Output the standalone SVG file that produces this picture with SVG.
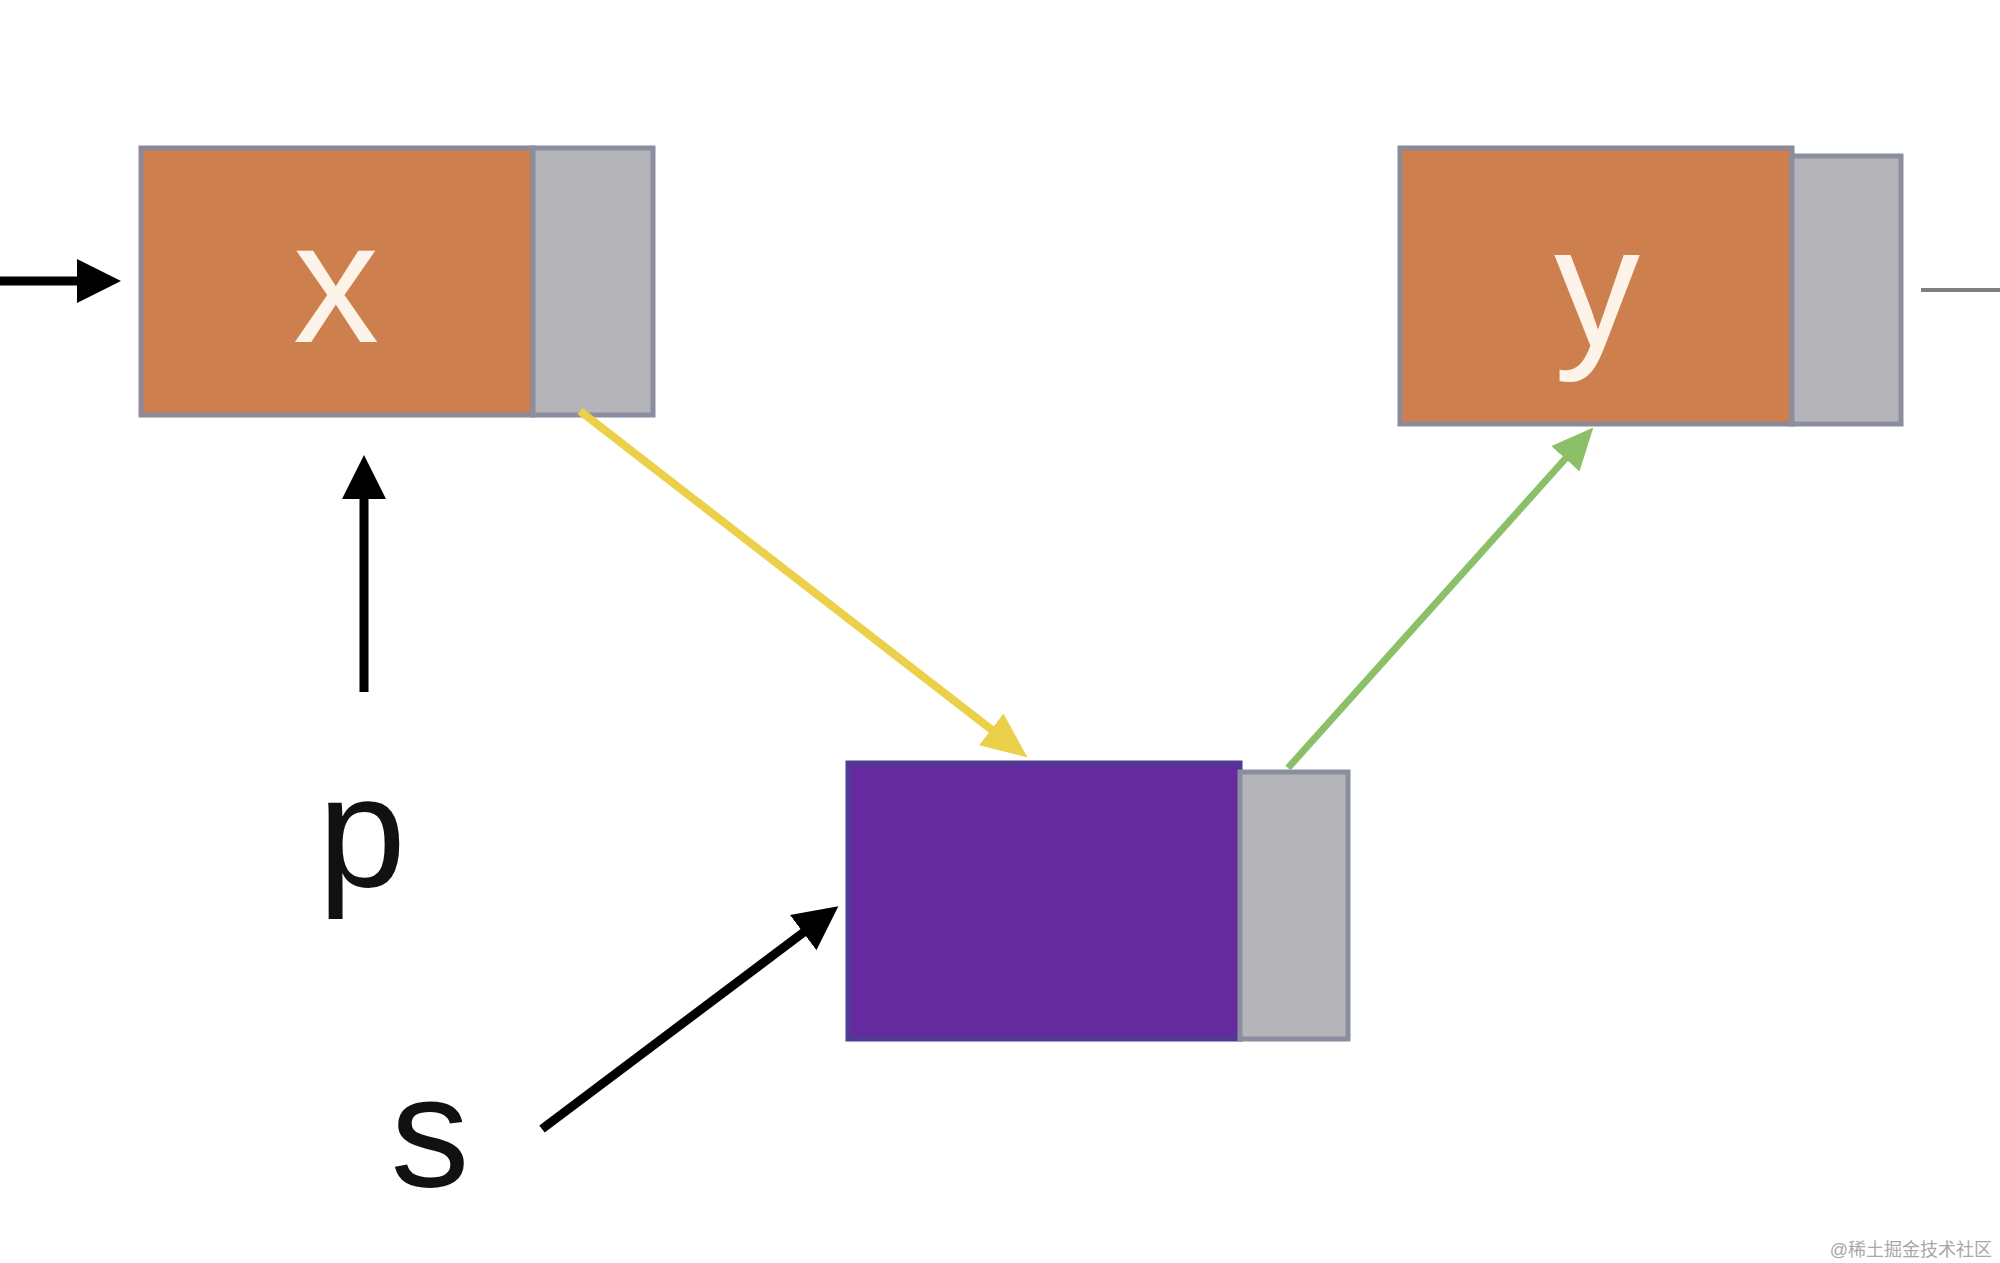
<svg xmlns="http://www.w3.org/2000/svg" width="2000" height="1263" viewBox="0 0 2000 1263">
<style>
.data{fill:#cd7f4e;stroke:#8c8a98;stroke-width:5}
.ptr{fill:#b5b4b9;stroke:#8a8e9e;stroke-width:5}
.new{fill:#652b9e;stroke:#503a94;stroke-width:5}
.lbl{font-family:"Liberation Sans",Arial,sans-serif;text-anchor:middle}
.in{fill:#fdf3e8;font-size:172px}
.out{fill:#111;font-size:158px}
.blk{stroke:#000;stroke-width:9;fill:none}
</style>
<defs>
<marker id="ah-black" markerUnits="userSpaceOnUse" markerWidth="44" markerHeight="44" viewBox="0 0 44 44" refX="1" refY="22" orient="auto"><path d="M0,0 L44,22 L0,44 Z" fill="#000"/></marker>
<marker id="ah-yellow" markerUnits="userSpaceOnUse" markerWidth="46" markerHeight="40" viewBox="0 0 46 40" refX="1" refY="20" orient="auto"><path d="M0,0 L46,20 L0,40 Z" fill="#ecd04a"/></marker>
<marker id="ah-green" markerUnits="userSpaceOnUse" markerWidth="42" markerHeight="38" viewBox="0 0 42 38" refX="1" refY="19" orient="auto"><path d="M0,0 L42,19 L0,38 Z" fill="#8cc068"/></marker>
</defs>
<rect width="2000" height="1263" fill="#fff"/>
<g id="node-x">
<rect class="data" x="141" y="148" width="392" height="267"/>
<rect class="ptr" x="533" y="148" width="120" height="267"/>
<text class="lbl in" x="336" y="342">x</text>
</g>
<g id="node-y">
<rect class="data" x="1400" y="148" width="392" height="276"/>
<rect class="ptr" x="1792" y="156" width="109" height="268"/>
<text class="lbl in" x="1597" y="346">y</text>
</g>
<g id="node-s">
<rect class="new" x="848" y="763" width="392" height="276"/>
<rect class="ptr" x="1240" y="772" width="108" height="267"/>
</g>
<g id="label-p"><text class="lbl out" x="362" y="886">p</text></g>
<g id="label-s"><text class="lbl out" x="430" y="1186">s</text></g>
<g id="connectors">
<line class="blk" x1="0" y1="281" x2="78" y2="281" marker-end="url(#ah-black)"/>
<line class="blk" x1="364" y1="692" x2="364" y2="498" marker-end="url(#ah-black)"/>
<line class="blk" x1="542" y1="1129" x2="804" y2="932" marker-end="url(#ah-black)"/>
<line x1="580" y1="411" x2="992" y2="730" stroke="#ecd04a" stroke-width="8" marker-end="url(#ah-yellow)"/>
<line x1="1288" y1="768" x2="1566" y2="458" stroke="#8cc068" stroke-width="7" marker-end="url(#ah-green)"/>
<line x1="1921" y1="290" x2="2000" y2="290" stroke="#7f7f7f" stroke-width="4"/>
</g>
<text x="1992" y="1256" font-family="'Liberation Sans','Noto Sans CJK SC',sans-serif" font-size="18" fill="#a8a8a8" text-anchor="end">@稀土掘金技术社区</text>
</svg>
